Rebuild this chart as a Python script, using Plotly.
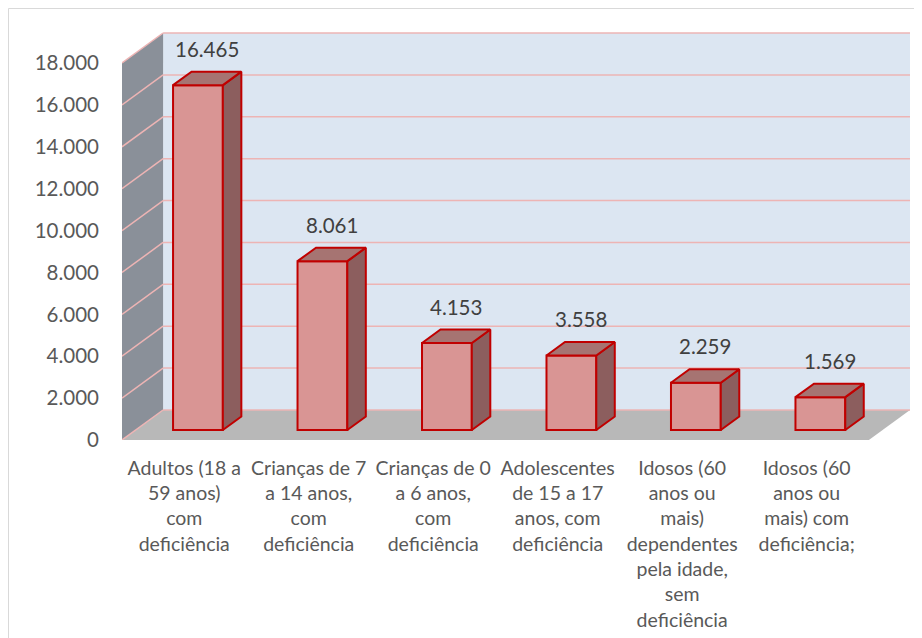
import plotly.graph_objects as go

# ---- data ----
categories = [
    "Adultos (18 a<br>59 anos)<br>com<br>deficiência",
    "Crianças de 7<br>a 14 anos,<br>com<br>deficiência",
    "Crianças de 0<br>a 6 anos,<br>com<br>deficiência",
    "Adolescentes<br>de 15 a 17<br>anos, com<br>deficiência",
    "Idosos (60<br>anos ou<br>mais)<br>dependentes<br>pela idade,<br>sem<br>deficiência",
    "Idosos (60<br>anos ou<br>mais) com<br>deficiência;",
]
values = [16465, 8061, 4153, 3558, 2259, 1569]
y_ticks = list(range(0, 18001, 2000))

# ---- pseudo-3D geometry (in axis units) ----
OFF = 8                                  # page body margin
W, H = 922 - OFF, 638 - OFF
ML, MT = 122 - OFF, 31 - OFF
plot_w, plot_h = 788, 409
MR = W - ML - plot_w
MB = H - MT - plot_h
YMAX = 19528
px_per_y = plot_h / YMAX
DY = 30 / px_per_y                       # depth vertical offset (full depth)
ncat = len(values)
DXc = 41 / (745 / ncat)                  # depth horizontal offset in category units
XMIN, XMAX = -0.5, ncat - 0.5 + DXc
d0 = 1 / 3                               # bar front depth fraction
dd = 0.45                                # bar depth fraction
bw = 0.40                                # bar width (category units)

WALL = "#DCE6F2"
SIDE = "#8A9099"
FLOOR = "#B8B8B8"
GRID = "#EDB4B4"
BAR_FRONT = "#D99594"
BAR_SIDE = "#8C5E5E"
BAR_TOP = "#A67472"
EDGE = "#C00000"
TXT = "#595959"
FONT = "Lato"

fig = go.Figure()
shapes = []

# back wall
shapes.append(dict(type="rect", xref="x", yref="y", layer="below",
                   x0=-0.5 + DXc, x1=ncat - 0.5 + DXc, y0=DY, y1=y_ticks[-1] + DY,
                   fillcolor=WALL, line=dict(width=0)))
# side wall
shapes.append(dict(type="path", xref="x", yref="y", layer="below",
                   path=f"M {-0.5} 0 L {-0.5} {y_ticks[-1]} L {-0.5 + DXc} {y_ticks[-1] + DY} L {-0.5 + DXc} {DY} Z",
                   fillcolor=SIDE, line=dict(width=0)))
# floor
shapes.append(dict(type="path", xref="x", yref="y", layer="below",
                   path=f"M {-0.5} 0 L {ncat - 0.5} 0 L {ncat - 0.5 + DXc} {DY} L {-0.5 + DXc} {DY} Z",
                   fillcolor=FLOOR, line=dict(width=0)))
# gridlines
for v in y_ticks:
    shapes.append(dict(type="line", xref="x", yref="y", layer="below",
                       x0=-0.5 + DXc, x1=ncat - 0.5 + DXc, y0=v + DY, y1=v + DY,
                       line=dict(color=GRID, width=1.5)))
    shapes.append(dict(type="line", xref="x", yref="y", layer="below",
                       x0=-0.5, x1=-0.5 + DXc, y0=v, y1=v + DY,
                       line=dict(color=GRID, width=1.5)))
# chart border (figure pixel coords -> paper)
bx0, bx1, by0, by1 = 0.5, W + 20, 0.5, H + 20
shapes.append(dict(type="rect", xref="paper", yref="paper", layer="below",
                   x0=(bx0 - ML) / plot_w, x1=(bx1 - ML) / plot_w,
                   y0=(MT + plot_h - by1) / plot_h, y1=(MT + plot_h - by0) / plot_h,
                   fillcolor="rgba(0,0,0,0)", line=dict(color="#D9D9D9", width=1)))

xs = [i + d0 * DXc for i in range(ncat)]
base = d0 * DY

# front faces
fig.add_trace(go.Bar(x=xs, y=values, base=[base] * ncat, width=bw,
                     marker=dict(color=BAR_FRONT, line=dict(color=EDGE, width=2)),
                     hoverinfo="skip"))

ox, oy = dd * DXc, dd * DY
for x, v in zip(xs, values):
    xl, xr = x - bw / 2, x + bw / 2
    top = base + v
    # side face
    fig.add_trace(go.Scatter(x=[xr, xr + ox, xr + ox, xr, xr],
                             y=[base, base + oy, top + oy, top, base],
                             mode="lines", fill="toself", fillcolor=BAR_SIDE,
                             line=dict(color=EDGE, width=2), hoverinfo="skip"))
    # top face
    fig.add_trace(go.Scatter(x=[xl, xr, xr + ox, xl + ox, xl],
                             y=[top, top, top + oy, top + oy, top],
                             mode="lines", fill="toself", fillcolor=BAR_TOP,
                             line=dict(color=EDGE, width=2), hoverinfo="skip"))

annotations = []
for x, v in zip(xs, values):
    annotations.append(dict(x=x + ox / 2, y=base + v + oy, xref="x", yref="y",
                            text=f"{v:,}".replace(",", "."), showarrow=False,
                            yanchor="middle", yshift=23,
                            font=dict(family=FONT, size=20.5, color="#404040")))

fig.update_layout(
    width=W, height=H,
    margin=dict(l=ML, r=MR, t=MT, b=MB, autoexpand=False),
    paper_bgcolor="white", plot_bgcolor="white",
    showlegend=False, hovermode=False,
    separators=",.",
    shapes=shapes, annotations=annotations,
    font=dict(family=FONT, color=TXT),
    xaxis=dict(range=[XMIN, XMAX], tickvals=list(range(ncat)), ticktext=categories,
               showgrid=False, zeroline=False, showline=False, ticks="", automargin=False,
               ticklabelstandoff=14, tickfont=dict(family=FONT, size=19.5, color=TXT)),
    yaxis=dict(range=[0, YMAX], tickvals=y_ticks, tickformat=",.0f", automargin=False,
               showgrid=False, zeroline=False, showline=False, ticks="",
               ticklabelstandoff=22, tickfont=dict(family=FONT, size=20.5, color=TXT)),
)

fig.write_html("out.html")
